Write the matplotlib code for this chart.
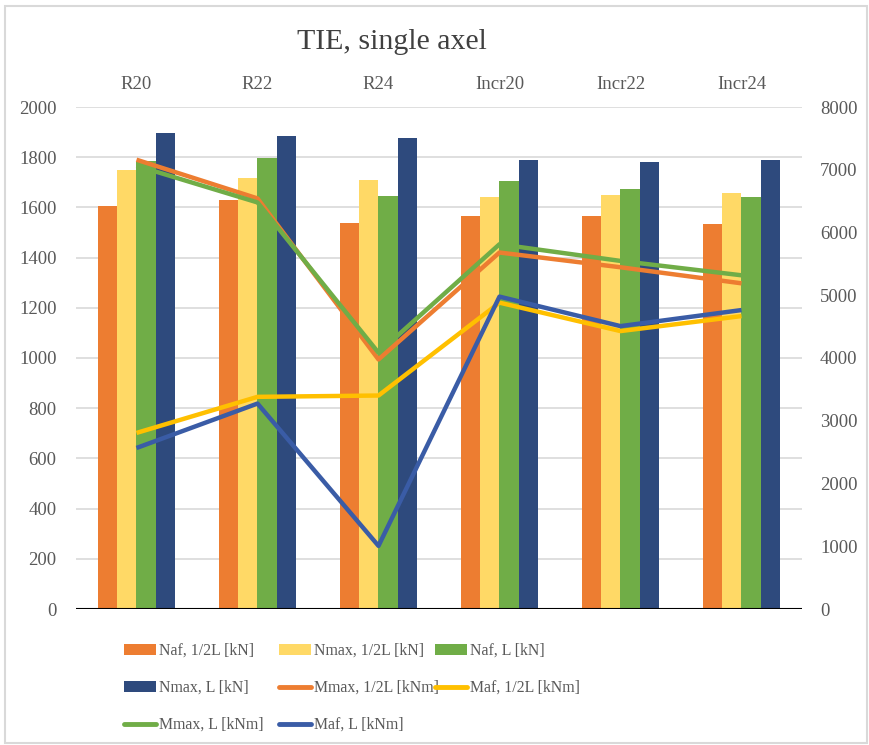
import matplotlib
matplotlib.use("Agg")
import matplotlib.pyplot as plt
import numpy as np
from matplotlib.patches import Rectangle, Patch
from matplotlib.lines import Line2D

categories = ["R20", "R22", "R24", "Incr20", "Incr22", "Incr24"]

# Bars (left axis, kN)
naf_half = [1605, 1628, 1536, 1565, 1565, 1532]
nmax_half = [1748, 1718, 1708, 1641, 1648, 1657]
naf_L = [1785, 1798, 1644, 1704, 1675, 1641]
nmax_L = [1895, 1886, 1878, 1787, 1782, 1787]

# Lines (right axis, kNm)
mmax_half = [7160, 6543, 3977, 5681, 5446, 5190]
maf_half = [2806, 3381, 3402, 4882, 4429, 4668]
mmax_L = [7064, 6479, 4084, 5813, 5547, 5318]
maf_L = [2566, 3274, 1006, 4978, 4508, 4764]

bar_series = [
    ("Naf, 1/2L [kN]", naf_half, "#ED7D31"),
    ("Nmax, 1/2L [kN]", nmax_half, "#FFD966"),
    ("Naf, L [kN]", naf_L, "#70AD47"),
    ("Nmax, L [kN]", nmax_L, "#2E4A7D"),
]
line_series = [
    ("Mmax, 1/2L [kNm]", mmax_half, "#ED7D31"),
    ("Maf, 1/2L [kNm]", maf_half, "#FFC000"),
    ("Mmax, L [kNm]", mmax_L, "#70AD47"),
    ("Maf, L [kNm]", maf_L, "#3A5CA6"),
]

W, H = 870, 745
fig = plt.figure(figsize=(W / 100, H / 100), dpi=100)
serif = ["Liberation Serif", "DejaVu Serif"]
txt = "#595959"

# plot area in pixels
left, right, top, bottom = 76, 802, 107, 609
ax = fig.add_axes([left / W, 1 - bottom / H, (right - left) / W, (bottom - top) / H])
ax2 = ax.twinx()

x = np.arange(len(categories))
bw = 0.161
for i, (lab, vals, col) in enumerate(bar_series):
    ax.bar(x + (i - 1.5) * bw, vals, width=bw, color=col, zorder=2)

for lab, vals, col in line_series:
    ax2.plot(x, vals, color=col, lw=3.2, solid_capstyle="butt", zorder=3)

ax.set_xlim(-0.5, 5.5)
ax.set_ylim(0, 2000)
ax.set_yticks(np.arange(0, 2001, 200))
ax2.set_ylim(0, 8000)
ax2.set_yticks(np.arange(0, 8001, 1000))

ax.grid(axis="y", color="#D9D9D9", lw=1.2, zorder=0)
ax.set_axisbelow(True)
for a in (ax, ax2):
    for s in a.spines.values():
        s.set_visible(False)
ax.axhline(0, color="black", lw=1.5, zorder=4)

ax.set_xticks(x)
ax.set_xticklabels(categories)
ax.xaxis.tick_top()
ax.tick_params(axis="x", length=0, pad=10, labelsize=13.5, labelcolor=txt)
ax.tick_params(axis="y", length=0, pad=14, labelsize=13.5, labelcolor=txt)
ax2.tick_params(axis="y", length=0, pad=13, labelsize=13.5, labelcolor=txt)
for lbl in ax.get_xticklabels() + ax.get_yticklabels() + ax2.get_yticklabels():
    lbl.set_family(serif)

fig.text(392 / W, 1 - 42 / H, "TIE, single axel", ha="center", va="center",
         fontsize=21.5, color="#404040", family=serif)

# outer border
fig.patches.append(Rectangle((5 / W, 1 - 743 / H), 862 / W, 737 / H, transform=fig.transFigure,
                             fill=False, edgecolor="#D9D9D9", lw=1.5))

# legend: three columns
bh = [Patch(facecolor=c, edgecolor="none") for _, _, c in bar_series]
lh = [Line2D([], [], color=c, lw=3.5, solid_capstyle="round") for _, _, c in line_series]
labels_all = [s[0] for s in bar_series] + [s[0] for s in line_series]
handles_all = bh + lh
cols = [[0, 3, 6], [1, 4, 7], [2, 5]]
col_x = [124, 279, 435]
fs = 11.4
for cx, idx in zip(col_x, cols):
    leg = fig.legend([handles_all[i] for i in idx], [labels_all[i] for i in idx],
                     loc="upper left", bbox_to_anchor=(cx / W, 1 - 643 / H),
                     frameon=False, prop={"family": serif, "size": fs},
                     handlelength=2.0, handleheight=0.65, handletextpad=0.2,
                     labelspacing=1.33, borderpad=0, borderaxespad=0)
    for t in leg.get_texts():
        t.set_color(txt)

fig.savefig("out.png", dpi=100)
